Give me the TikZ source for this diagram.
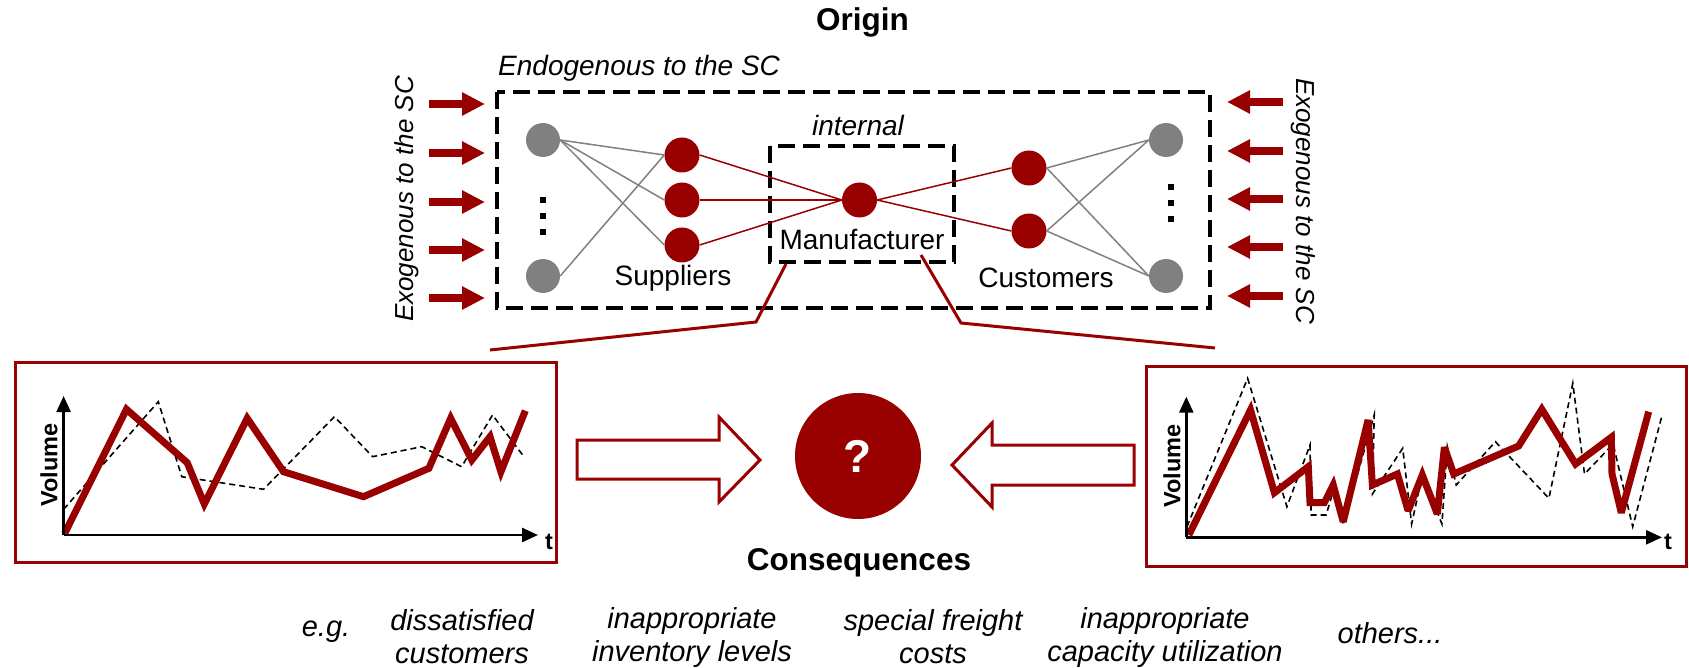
\documentclass[tikz,border=0pt]{standalone}
\usepackage{fontspec}
\setmainfont{Liberation Sans}
\usetikzlibrary{arrows.meta}
\definecolor{dred}{HTML}{990000}
\definecolor{ngray}{HTML}{808080}
\begin{document}
\begin{tikzpicture}[x=1pt,y=-1pt,
  txt/.style={font=\fontsize{28}{32}\selectfont, inner sep=0pt},
  ittxt/.style={font=\fontsize{28}{32}\selectfont\itshape, inner sep=0pt},
  vtxt/.style={font=\fontsize{26}{30}\selectfont\itshape, inner sep=0pt},
  btxt/.style={font=\fontsize{29}{33}\selectfont\itshape, inner sep=0pt, align=center},
  title/.style={font=\fontsize{31.5}{36}\selectfont\bfseries, inner sep=0pt},
  vol/.style={font=\fontsize{23.5}{26}\selectfont\bfseries, inner sep=0pt},
  gnode/.style={circle, fill=ngray, minimum size=34pt, inner sep=0pt},
  rnode/.style={circle, fill=dred, minimum size=35pt, inner sep=0pt},
  glink/.style={draw=ngray, line width=1.5pt},
  rlink/.style={draw=dred, line width=1.5pt},
  dbox/.style={draw=black, line width=3.5pt, dash pattern=on 17pt off 8pt},
  exarrow/.style={draw=dred, line width=8.7pt, -{Triangle[length=23pt,width=22pt]}},
  zoomline/.style={draw=dred, line width=3pt},
  chartbox/.style={draw=dred, line width=3pt},
  hollow/.style={draw=dred, line width=3pt, fill=white, line join=miter},
  axisline/.style={draw=black, line width=2.5pt, -{Triangle[length=16pt,width=14pt]}},
  curve/.style={draw=dred, line width=7pt, miter limit=3},
  dcurve/.style={draw=black, line width=1.6pt, dash pattern=on 6pt off 4pt},
  vdot/.style={fill=black}
]
\useasboundingbox (0,0) rectangle (1689,668);

% titles
\node[title] (origin) at (862.5,22) {Origin};
\node[ittxt, anchor=west] (endo) at (498,68) {Endogenous to the SC};

% boxes
\draw[dbox] (497,92) rectangle (1210,308);
\draw[dbox] (770,146) rectangle (954,262);
\node[ittxt] (internal) at (858,125) {internal};
\node[txt] (manu) at (862,240) {Manufacturer};
\node[txt] (supp) at (673,278) {Suppliers};
\node[txt] (cust) at (1046,278) {Customers};

% network nodes
\node[gnode] (g1) at (543,140) {};
\node[gnode] (g2) at (543,276) {};
\node[rnode] (s1) at (682,155) {};
\node[rnode] (s2) at (682,200) {};
\node[rnode] (s3) at (682,245) {};
\node[rnode] (m) at (859.5,200) {};
\node[rnode] (c1) at (1029,168) {};
\node[rnode] (c2) at (1029,231) {};
\node[gnode] (g3) at (1166,140) {};
\node[gnode] (g4) at (1166,276) {};

\foreach \yy in {200,216,232} \fill[vdot] (540.2,\yy-3.3) rectangle ++(5.6,6.6);
\foreach \yy in {187,203,219} \fill[vdot] (1168.2,\yy-3.3) rectangle ++(5.6,6.6);

\draw[glink] (g1.east) -- (s1.west);
\draw[glink] (g1.east) -- (s2.west);
\draw[glink] (g1.east) -- (s3.west);
\draw[glink] (g2.east) -- (s1.west);
\draw[rlink] (s1.east) -- (m.west);
\draw[rlink] (s2.east) -- (m.west);
\draw[rlink] (s3.east) -- (m.west);
\draw[rlink] (m.east) -- (c1.west);
\draw[rlink] (m.east) -- (c2.west);
\draw[glink] (c1.east) -- (g3.west);
\draw[glink] (c1.east) -- (g4.west);
\draw[glink] (c2.east) -- (g3.west);
\draw[glink] (c2.east) -- (g4.west);

% exogenous arrows
\foreach \i/\yy in {1/104,2/153,3/202,4/250,5/298}{
  \coordinate (la\i) at (429,\yy);
  \coordinate (lb\i) at (485,\yy);
  \draw[exarrow] (la\i) -- (lb\i);
}
\foreach \i/\yy in {1/102,2/151,3/199,4/247,5/296}{
  \coordinate (ra\i) at (1283,\yy);
  \coordinate (rb\i) at (1227,\yy);
  \draw[exarrow] (ra\i) -- (rb\i);
}
\node[vtxt, rotate=90] (exl) at (407,199) {Exogenous to the SC};
\node[vtxt, rotate=-90] (exr) at (1303,201) {Exogenous to the SC};

% zoom lines
\coordinate (zl1) at (786,264);
\coordinate (zl2) at (756,322);
\coordinate (zl3) at (490,350);
\coordinate (zr1) at (921,255);
\coordinate (zr2) at (961,323);
\coordinate (zr3) at (1215,348);
\draw[zoomline] (zl1) -- (zl2) -- (zl3);
\draw[zoomline] (zr1) -- (zr2) -- (zr3);

% left chart
\draw[chartbox] (15,362) rectangle (556,562);
\coordinate (lo) at (63.6,535);
\coordinate (ly) at (63.6,396);
\coordinate (lx) at (538,535);
\draw[dcurve] (63.6,509.3) -- (158.3,401.7) -- (181.8,476.7) -- (263.5,489.3) -- (334.4,416.7) -- (372.6,456.7) -- (421.7,446.7) -- (461.6,466.7) -- (492.5,415) -- (523.4,456);
\draw[curve] (64.7,533.3) -- (126.5,409.3) -- (187.2,462.7) -- (204.3,504) -- (247.2,418.3) -- (283.5,471.7) -- (363.5,496.7) -- (428.9,468.3) -- (450.7,418.3) -- (471.8,460) -- (490,436.7) -- (500.9,471.7) -- (525.3,410.7);
\draw[axisline] (lo) -- (ly);
\draw[axisline] (lo) -- (lx);
\node[vol, rotate=90] (lvol) at (49,465) {Volume};
\node[vol] (lt) at (549,542) {t};

% right chart
\draw[chartbox] (1146,366) rectangle (1686,566);
\coordinate (ro) at (1186.3,537.3);
\coordinate (ry) at (1186.3,396.7);
\coordinate (rx) at (1662,537.3);
\draw[dcurve] (1187,526.7) -- (1247.6,378.3) -- (1286.9,506.7) -- (1310,445) -- (1311.1,515) -- (1326.1,515) -- (1335,485) -- (1343.2,525) -- (1374.2,415) -- (1372.4,494) -- (1402.7,448.3) -- (1411.6,524) -- (1422.3,475) -- (1441.9,524) -- (1447.3,446.7) -- (1456.2,485) -- (1495.4,441.7) -- (1548.9,498.3) -- (1572.8,383.3) -- (1584.5,474) -- (1613.1,444) -- (1632.7,526.7) -- (1661.9,416);
\draw[curve] (1188.8,535) -- (1250.5,410) -- (1274.4,492.7) -- (1308.3,466.7) -- (1310,502.7) -- (1324.3,502.7) -- (1333.2,485) -- (1343.2,521.7) -- (1368.1,420) -- (1372.4,485) -- (1397.4,474) -- (1408.1,510.7) -- (1422.3,475) -- (1437.3,514) -- (1444.4,447.3) -- (1453.7,474) -- (1518.6,446) -- (1541.8,409.3) -- (1575.6,464) -- (1611.3,437.3) -- (1612,474) -- (1621.3,512.7) -- (1648.7,411.7);
\draw[axisline] (ro) -- (ry);
\draw[axisline] (ro) -- (rx);
\node[vol, rotate=90] (rvol) at (1172,466) {Volume};
\node[vol] (rt) at (1668,542) {t};

% hollow arrows and circle
\draw[hollow] (577,440) -- (719,440) -- (719,417) -- (760,460) -- (719,502) -- (719,479) -- (577,479) -- cycle;
\draw[hollow] (1134,445) -- (992,445) -- (992,423) -- (952,465) -- (992,507) -- (992,485) -- (1134,485) -- cycle;
\node[circle, fill=dred, minimum size=126pt, inner sep=0pt, text=white, font=\fontsize{46}{50}\selectfont\bfseries] (q) at (858,456) {?};

% consequences
\node[title] (cons) at (859,563) {Consequences};
\node[btxt] (eg) at (326,632) {e.g.};
\node[btxt] (b1) at (462,637) {dissatisfied\\customers};
\node[btxt] (b2) at (692,637) {inappropriate\\inventory levels};
\node[btxt] (b3) at (933,637) {special freight\\costs};
\node[btxt] (b4) at (1165,637) {inappropriate\\capacity utilization};
\node[btxt] (b5) at (1390,633) {others...};
\end{tikzpicture}
\end{document}
